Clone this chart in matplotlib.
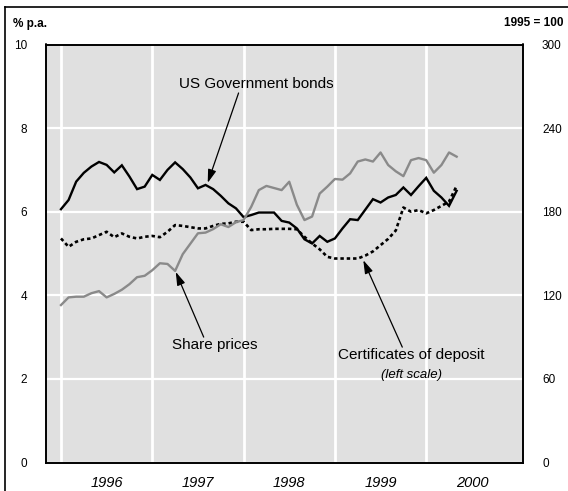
import matplotlib
matplotlib.use("Agg")  # headless
import matplotlib.pyplot as plt
from matplotlib.lines import Line2D
import pandas as pd

plt.rcParams["font.family"] = ["Liberation Sans", "DejaVu Sans"]

months = pd.date_range("1996-01-01", "2000-05-01", freq="MS")

# % p.a., left scale
us_bonds = [
    6.06, 6.28, 6.72, 6.93, 7.08, 7.19, 7.12, 6.94, 7.11, 6.84,
    6.54, 6.60, 6.88, 6.76, 7.00, 7.18, 7.02, 6.82, 6.56, 6.64,
    6.54, 6.38, 6.20, 6.08, 5.87, 5.92, 5.98, 5.98, 5.98, 5.78,
    5.74, 5.60, 5.34, 5.24, 5.42, 5.28, 5.36, 5.60, 5.82, 5.80,
    6.05, 6.30, 6.22, 6.34, 6.40, 6.58, 6.40, 6.61, 6.81, 6.50,
    6.34, 6.14, 6.50,
]
certificates = [
    5.36, 5.16, 5.28, 5.34, 5.36, 5.44, 5.52, 5.39, 5.48, 5.40,
    5.36, 5.40, 5.42, 5.39, 5.52, 5.68, 5.66, 5.63, 5.60, 5.60,
    5.66, 5.71, 5.72, 5.76, 5.76, 5.56, 5.58, 5.58, 5.59, 5.59,
    5.59, 5.58, 5.40, 5.24, 5.10, 4.92, 4.88, 4.88, 4.88, 4.88,
    4.95, 5.05, 5.20, 5.35, 5.55, 6.10, 6.00, 6.04, 5.96, 6.04,
    6.14, 6.24, 6.62,
]
# 1995 = 100, right scale
share_prices = [
    113, 118.5, 119, 119, 121.5, 123, 118.5, 121, 124, 128,
    133, 134, 138, 143, 142.5, 137.5, 149.5, 157, 164.5, 165,
    167.5, 171, 169, 172.5, 174, 183.5, 195.5, 198.5, 197, 195.5,
    201.5, 185, 174, 176.5, 193, 198, 203.5, 203, 207.5, 216,
    217.5, 216, 222.5, 213.5, 209, 205.5, 217, 218.5, 217, 208,
    213.5, 222.5, 219.5,
]

year_labels = ["1996", "1997", "1998", "1999", "2000"]
left_ticks = [0, 2, 4, 6, 8, 10]
right_ticks = [0, 60, 120, 180, 240, 300]

x = months.year + (months.month - 1) / 12.0
years = [int(y) for y in year_labels]

W, H = 568, 491
fig = plt.figure(figsize=(W / 100, H / 100), dpi=100)
ax = fig.add_axes([46 / W, 28.5 / H, 477 / W, 418 / H])
ax.set_facecolor("#e0e0e0")
ax.set_xlim(1995.836, 2001.06)
ax.set_ylim(0, 10)
ax.set_yticks(left_ticks)
ax.set_xticks(years, minor=True)
ax.set_xticks([y + 0.5 for y in years])
ax.set_xticklabels(year_labels, fontstyle="italic")
ax.grid(which="minor", axis="x", color="white", lw=2)
ax.grid(which="major", axis="y", color="white", lw=1.6)
ax.set_axisbelow(True)
ax.tick_params(which="both", length=0)
ax.tick_params(axis="y", pad=13.7, labelsize=8.5)
ax.tick_params(axis="x", pad=10, labelsize=10.5)

ax.plot(x, us_bonds, color="black", lw=1.7, solid_joinstyle="miter")
ax.plot(x, certificates, color="black", lw=1.9, linestyle=(0, (1.3, 1.1)))

ax2 = ax.twinx()
ax2.set_ylim(0, 300)
ax2.set_yticks(right_ticks)
ax2.tick_params(length=0, pad=13.7, labelsize=8.5)
ax2.plot(x, share_prices, color="#8a8a8a", lw=1.7)

for a in (ax, ax2):
    for s in a.spines.values():
        s.set_color("black")
        s.set_linewidth(1.2)

arrow = dict(arrowstyle="-|>,head_length=0.8,head_width=0.25", color="black",
             lw=0.9, shrinkA=0, shrinkB=0)
ax.text(1998.137, 9.055, "US Government bonds", ha="center", va="center", fontsize=11)
ax.annotate("", xy=(1997.607, 6.69), xytext=(1997.945, 8.84), arrowprops=arrow)
ax.text(1997.683, 2.81, "Share prices", ha="center", va="center", fontsize=11)
ax.annotate("", xy=(1997.257, 4.56), xytext=(1997.563, 3.0), arrowprops=arrow)
ax.text(1999.836, 2.57, "Certificates of deposit", ha="center", va="center", fontsize=11)
ax.text(1999.836, 2.09, "(left scale)", ha="center", va="center", fontsize=9.5,
        fontstyle="italic")
ax.annotate("", xy=(1999.311, 4.84), xytext=(1999.738, 2.76), arrowprops=arrow)

fig.text(13 / W, 1 - 24 / H, "% p.a.", ha="left", va="center", fontsize=8.5,
         fontweight="bold")
fig.text(563 / W, 1 - 23 / H, "1995 = 100", ha="right", va="center", fontsize=8.5,
         fontweight="bold")

# outer frame (top and left edges visible)
fig.add_artist(Line2D([5 / W, 1], [1 - 7 / H, 1 - 7 / H], transform=fig.transFigure,
                      color="black", lw=1.2))
fig.add_artist(Line2D([5 / W, 5 / W], [0, 1 - 7 / H], transform=fig.transFigure,
                      color="black", lw=1.2))

fig.savefig("out.png", dpi=100)
